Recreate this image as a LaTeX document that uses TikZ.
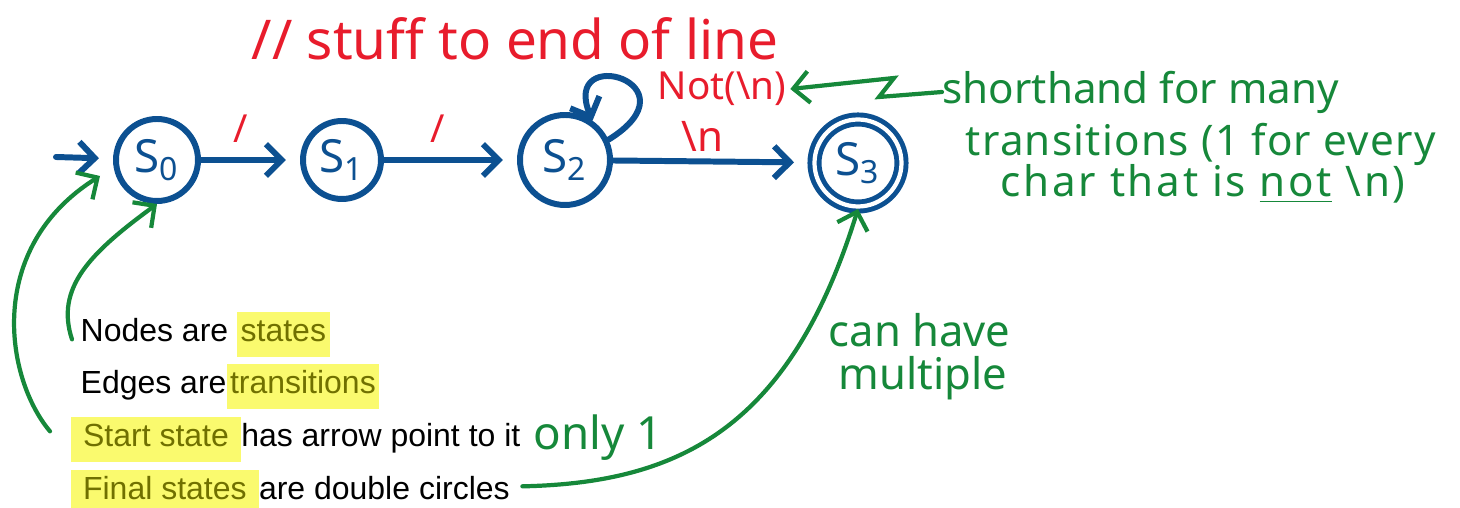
\documentclass[tikz,border=0pt]{standalone}
\usepackage{fontspec}
\setmainfont{Liberation Sans}
\newfontfamily\handfont{Noto Sans}
\usetikzlibrary{positioning, calc, arrows.meta}

\definecolor{penblue}{RGB}{12,80,145}
\definecolor{penred}{RGB}{232,28,44}
\definecolor{pengreen}{RGB}{22,136,58}
\definecolor{hiliteyellow}{RGB}{250,250,110}
\definecolor{hilitetext}{RGB}{112,112,0}

% pen writing and marker highlight
\newcommand{\hand}[1]{\handfont\fontsize{#1}{#1}\selectfont}
\newcommand{\hilite}[1]{{\setlength{\fboxsep}{1pt}\colorbox{hiliteyellow}{\textcolor{hilitetext}{\strut #1}}}}

\tikzset{
    state/.style={circle, draw=penblue, line width=1.7pt, minimum size=0.8cm, inner sep=0pt, text=penblue, font=\hand{13}},
    finalstate/.style={state, line width=1.4pt, double=white, double distance=1.2pt, minimum size=0.87cm},
    move/.style={->, draw=penblue, line width=1.7pt, shorten >=4pt},
    note/.style={->, draw=pengreen, line width=1.2pt},
    redpen/.style={text=penred, inner sep=1pt},
    greenpen/.style={text=pengreen, inner sep=0pt, anchor=west},
    typed/.style={anchor=base west, inner sep=0pt, font=\fontsize{9.1}{10.9}\selectfont}
}

\begin{document}
\begin{tikzpicture}[>={Straight Barb[length=4.5pt,width=9pt]}, line cap=round]
    \useasboundingbox (0,0) rectangle (14.6,5.08);

    % States
    \foreach \i/\x/\d in {0/1.57/0.82, 1/3.42/0.78, 2/5.65/0.9} {
        \node[state, minimum size=\d cm] (s\i) at (\x,3.48) {S\textsubscript{\i}};
    }
    \node[finalstate] (s3) at (8.58,3.45) {S\textsubscript{3}};

    % Transitions
    \coordinate (start) at (0.56,3.51);
    \draw[move] (start) -- (s0);
    \foreach \a/\b in {0/1, 1/2} {
        \draw[move] (s\a) -- node[redpen, pos=0.4, above=3pt, font=\hand{11}] {/} (s\b);
    }
    \draw[move, shorten >=0.18cm] (s2) -- node[redpen, pos=0.45, above=1pt, font=\hand{12}] {\textbackslash n} (s3);
    \draw[move, shorten >=0pt] (s2.25) .. controls (7.0,4.25) and (5.6,4.65) .. (s2.55);

    \node[redpen, font=\hand{11}] (notnl) at (7.22,4.19) {Not(\textbackslash n)};
    \node[redpen, font=\hand{15.6}] (comment) at (5.15,4.69) {// stuff to end of line};

    % Notes in green
    \node[greenpen, font=\hand{12}] (short1) at (9.42,4.16) {shorthand for many};
    \node[greenpen, font=\hand{12}\addfontfeature{LetterSpace=3}] (short2) at (9.65,3.64) {transitions (1 for every};
    \node[greenpen, font=\hand{12}\addfontfeature{LetterSpace=6.5}] (short3) at (10.0,3.24) {char that is \underline{not} \textbackslash n)};
    \node[greenpen, font=\hand{12.4}] (canhave) at (8.28,1.78) {can have};
    \node[greenpen, font=\hand{12.4}] (multiple) at (8.38,1.30) {multiple};
    \node[greenpen, font=\hand{13}] (only) at (5.33,0.70) {only 1};

    % Bullet text
    \node[typed] (nodesline) at (0.80,1.66) {Nodes are \hilite{states}};
    \node[typed] (edgesline) at (0.80,1.14) {Edges are\hilite{transitions}};
    \node[typed] (startline) at (0.70,0.61) {\hilite{ Start state }has arrow point to it};
    \node[typed] (finalline) at (0.70,0.08) {\hilite{ Final states }are double circles};

    % Pointers from the notes
    \coordinate (startfoot) at (1.00,3.32);
    \draw[note] (short1.west) -- ++(-0.63,-0.05) -- ++(0.15,0.19) -- (notnl.east);
    \draw[note] (startline.west) ++(-0.2,0.08) .. controls (0.05,1.3) and (-0.15,2.6) .. (startfoot);
    \draw[note] (nodesline.west) ++(-0.08,-0.05) .. controls (0.55,2.2) and (0.9,2.55) .. (s0.south);
    \draw[note] (finalline.east) ++(0.12,0.06) .. controls (6.8,0.25) and (7.9,0.8) .. (s3.south);

\end{tikzpicture}
\end{document}
